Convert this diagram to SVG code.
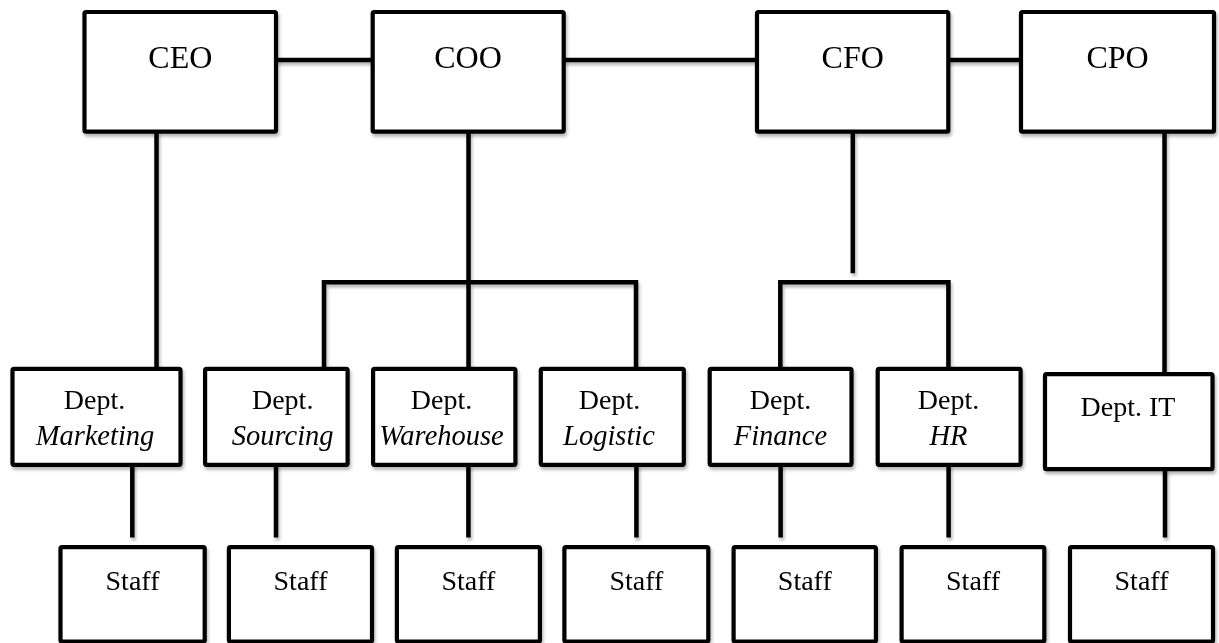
<svg xmlns="http://www.w3.org/2000/svg" width="1219" height="643" viewBox="0 0 1219 643">
<defs>
<filter id="sh" x="-10%" y="-10%" width="130%" height="140%">
<feDropShadow dx="1.5" dy="3" stdDeviation="1.8" flood-color="#000" flood-opacity="0.28"/>
</filter>
<style>
.box{fill:#fff;stroke:#000;stroke-width:4.2;stroke-linejoin:round}
.ln{fill:none;stroke:#000;stroke-width:4.5;stroke-linecap:butt}
text{font-family:"Liberation Serif","Times New Roman",serif;fill:#000;text-anchor:middle}
.t1{font-size:32px}
.t2{font-size:28px}
.it{font-style:italic;font-size:28.5px}
</style>
</defs>
<rect width="1219" height="643" fill="#fff"/>
<g id="connectors" filter="url(#sh)">
<path class="ln" d="M276 60H372.7M563.7 60H757M948.3 60H1021"/>
<path class="ln" d="M156.5 132V368.5"/>
<path class="ln" d="M468.5 132V368.5"/>
<path class="ln" d="M324 368.5V282.3H636V368.5"/>
<path class="ln" d="M852.8 132V273.3"/>
<path class="ln" d="M780.3 368.5V282.3H948.4V368.5"/>
<path class="ln" d="M1164.5 132V374"/>
<path class="ln" d="M132.3 464V537.5M276 464V537.5M468.4 464V537.5M636.4 464V537.5M780.6 464V537.5M948.6 464V537.5M1165 469V537.5"/>
</g>
<g filter="url(#sh)">
<g id="ceo"><rect class="box" x="84.5" y="12" width="191.5" height="119.7" rx="1.5"/><text class="t1" x="180.3" y="67.7">CEO</text></g>
<g id="coo"><rect class="box" x="372.7" y="12" width="191" height="119.7" rx="1.5"/><text class="t1" x="468" y="67.7">COO</text></g>
<g id="cfo"><rect class="box" x="757" y="12" width="191.3" height="119.7" rx="1.5"/><text class="t1" x="852.7" y="67.7">CFO</text></g>
<g id="cpo"><rect class="box" x="1021" y="12" width="193" height="119.7" rx="1.5"/><text class="t1" x="1117.5" y="67.7">CPO</text></g>

<g id="dept-marketing"><rect class="box" x="12.5" y="368.8" width="168" height="96" rx="1.5"/><text class="t2" x="94.5" y="409.3">Dept.</text><text class="t2 it" x="95" y="444.5">Marketing</text></g>
<g id="dept-sourcing"><rect class="box" x="205.1" y="368.8" width="142.5" height="96" rx="1.5"/><text class="t2" x="282.7" y="409.3">Dept.</text><text class="t2 it" x="282.7" y="444.5">Sourcing</text></g>
<g id="dept-warehouse"><rect class="box" x="373.1" y="368.8" width="142.3" height="96" rx="1.5"/><text class="t2" x="441.5" y="409.3">Dept.</text><text class="t2 it" x="441.5" y="444.5">Warehouse</text></g>
<g id="dept-logistic"><rect class="box" x="540.8" y="368.8" width="143" height="96" rx="1.5"/><text class="t2" x="609.5" y="409.3">Dept.</text><text class="t2 it" x="609" y="444.5">Logistic</text></g>
<g id="dept-finance"><rect class="box" x="709.7" y="368.8" width="141.8" height="96" rx="1.5"/><text class="t2" x="780.5" y="409.3">Dept.</text><text class="t2 it" x="780.5" y="444.5">Finance</text></g>
<g id="dept-hr"><rect class="box" x="877.7" y="368.8" width="142.9" height="96" rx="1.5"/><text class="t2" x="948.5" y="409.3">Dept.</text><text class="t2 it" x="948.5" y="444.5">HR</text></g>
<g id="dept-it"><rect class="box" x="1045" y="374.2" width="167.5" height="95" rx="1.5"/><text class="t2" x="1128" y="416">Dept. IT</text></g>

<g id="staff-1"><rect class="box" x="60.5" y="547.2" width="144.2" height="94.3" rx="1.5"/><text class="t2" x="132.5" y="590">Staff</text></g>
<g id="staff-2"><rect class="box" x="228.9" y="547.2" width="143.1" height="94.3" rx="1.5"/><text class="t2" x="300.5" y="590">Staff</text></g>
<g id="staff-3"><rect class="box" x="396.9" y="547.2" width="143" height="94.3" rx="1.5"/><text class="t2" x="468.4" y="590">Staff</text></g>
<g id="staff-4"><rect class="box" x="564.4" y="547.2" width="143.9" height="94.3" rx="1.5"/><text class="t2" x="636.4" y="590">Staff</text></g>
<g id="staff-5"><rect class="box" x="733.6" y="547.2" width="142.3" height="94.3" rx="1.5"/><text class="t2" x="804.8" y="590">Staff</text></g>
<g id="staff-6"><rect class="box" x="901.6" y="547.2" width="142.7" height="94.3" rx="1.5"/><text class="t2" x="973" y="590">Staff</text></g>
<g id="staff-7"><rect class="box" x="1070" y="547.2" width="143" height="94.3" rx="1.5"/><text class="t2" x="1141.5" y="590">Staff</text></g>
</g>
</svg>
